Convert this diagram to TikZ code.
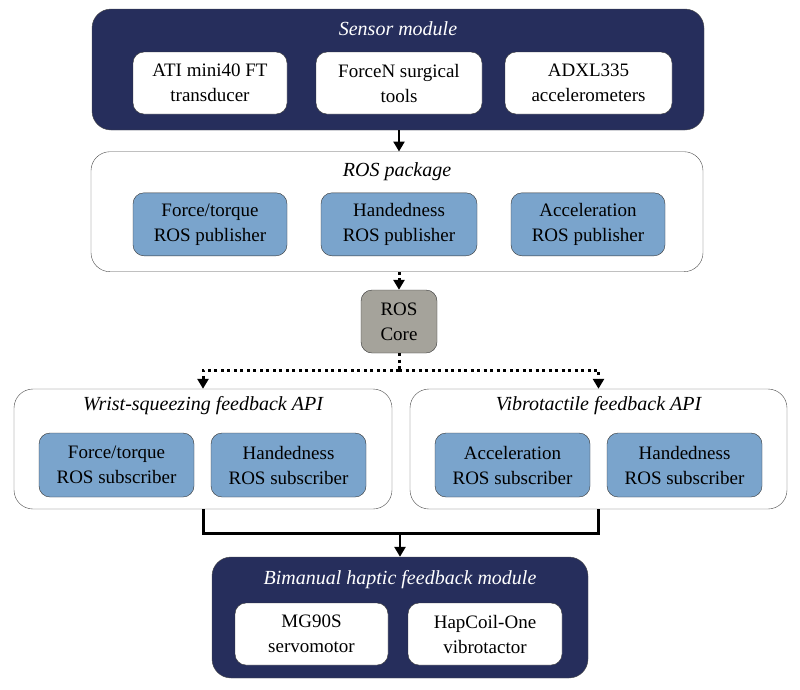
\documentclass[tikz,border=0pt]{standalone}
\usepackage{fontspec}
\setmainfont{Liberation Serif}
\usetikzlibrary{shapes,arrows.meta,positioning}
\definecolor{navy}{HTML}{262E5C}
\definecolor{rosblue}{HTML}{7AA4CC}
\definecolor{coregray}{HTML}{A5A39B}
\tikzset{
  module/.style={draw=black!70, fill=navy, rounded corners=19pt, inner sep=0pt},
  package/.style={draw=black!70, fill=white, rounded corners=19pt, inner sep=0pt},
  item/.style={draw=black!80, fill=white, rounded corners=11pt, inner sep=0pt,
    align=center, font=\fontsize{19}{25}\selectfont},
  rositem/.style={item, fill=rosblue},
  title/.style={font=\fontsize{20}{24}\selectfont\itshape},
  tip/.style={-{Triangle[width=11pt,length=10pt]}},
  link/.style={line width=2.6pt, tip},
  dotlink/.style={line width=3pt, dash pattern=on 3pt off 3.5pt},
}
\begin{document}
\begin{tikzpicture}[x=1pt, y=-1pt]
\useasboundingbox (0,0) rectangle (800,689);
%%% sensor module %%%
      \node[module, minimum width=612pt, minimum height=121pt] (sensor) at (398,69.5) {};
      \node[title, text=white] (sensortitle) at (398,29) {Sensor module};
      \node[item, minimum width=154pt, minimum height=62pt] (ati) at (210,83) {ATI mini40 FT\\transducer};
      \node[item, minimum width=166pt, minimum height=62pt] (forcen) at (399,83) {ForceN surgical\\tools};
      \node[item, minimum width=167pt, minimum height=62pt] (adxl) at (588.5,83) {ADXL335\\accelerometers};
%%% ROS package %%%
      \node[package, minimum width=612pt, minimum height=120pt] (rospkg) at (397,211.7) {};
      \node[title] (rospkgtitle) at (397,172) {ROS package};
      \node[rositem, minimum width=154pt, minimum height=63pt] (ftpub) at (210,224.3) {Force/torque\\ROS publisher};
      \node[rositem, minimum width=156pt, minimum height=63pt] (handpub) at (399,224.3) {Handedness\\ROS publisher};
      \node[rositem, minimum width=154pt, minimum height=63pt] (accpub) at (588,224.3) {Acceleration\\ROS publisher};
%%% ROS core %%%
      \node[item, fill=coregray, minimum width=76pt, minimum height=63pt] (core) at (399,321.5) {ROS\\Core};
%%% feedback APIs %%%
      \node[package, minimum width=378pt, minimum height=120pt] (wrist) at (203,449) {};
      \node[title] (wristtitle) at (203,406) {Wrist-squeezing feedback API};
      \node[rositem, minimum width=155pt, minimum height=64pt] (ftsub) at (116.5,465) {Force/torque\\ROS subscriber};
      \node[rositem, minimum width=155pt, minimum height=64pt] (handsub) at (288.5,465) {Handedness\\ROS subscriber};
      \node[package, minimum width=377pt, minimum height=120pt] (vibro) at (598.5,449) {};
      \node[title] (vibrotitle) at (598.5,406) {Vibrotactile feedback API};
      \node[rositem, minimum width=155pt, minimum height=64pt] (accsub) at (512.5,465) {Acceleration\\ROS subscriber};
      \node[rositem, minimum width=155pt, minimum height=64pt] (handsubb) at (684.5,465) {Handedness\\ROS subscriber};
%%% bimanual haptic feedback module %%%
      \node[module, minimum width=376pt, minimum height=121pt] (bimanual) at (400,617.5) {};
      \node[title, text=white] (bimanualtitle) at (400,580) {Bimanual haptic feedback module};
      \node[item, minimum width=153pt, minimum height=62pt] (servo) at (311.5,634) {MG90S\\servomotor};
      \node[item, minimum width=154pt, minimum height=62pt] (hapcoil) at (485,634) {HapCoil-One\\vibrotactor};
%%% connectors %%%
      \coordinate (split) at (core.south |- 0,370);
      \coordinate (merge) at (bimanual.north |- 0,533);
      \draw[link] (sensor.south -| forcen) -- (rospkg.north -| forcen);
      \draw[dotlink, tip] (rospkg.south -| core) -- (core.north);
      \draw[dotlink] (core.south) -- (split);
      \draw[dotlink, tip] (split) -| (wrist.north);
      \draw[dotlink, tip] (split) -| (vibro.north);
      \draw[line width=3pt] (wrist.south) |- (merge) -| (vibro.south);
      \draw[link] (merge) -- (bimanual.north);
\end{tikzpicture}
\end{document}
